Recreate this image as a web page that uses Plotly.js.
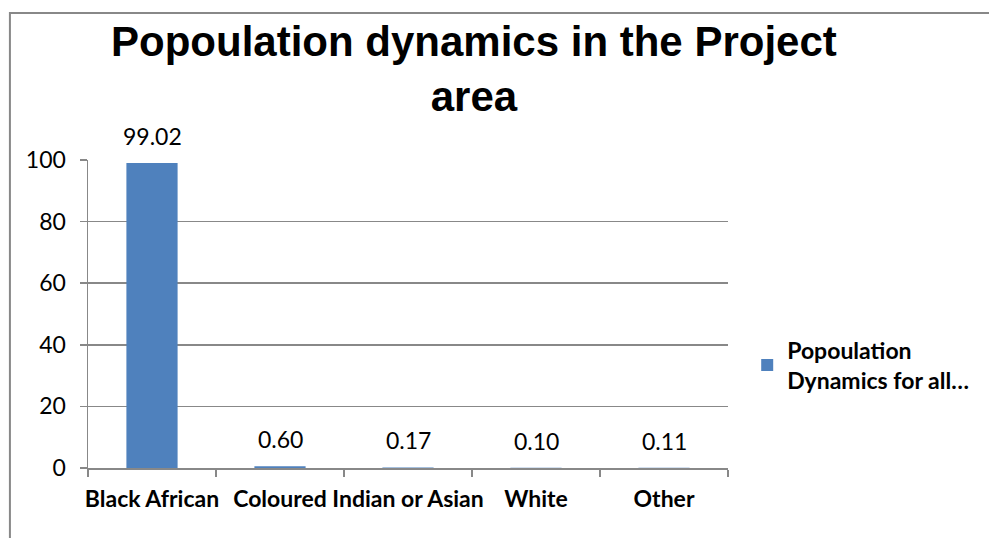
<!DOCTYPE html>
<html>
<head>
<meta charset="utf-8">
<script src="https://cdn.plot.ly/plotly-3.0.1.min.js"></script>
<style>
  html, body { margin: 0; padding: 0; background: #fff; }
  #chart { width: 989px; height: 538px; }
</style>
</head>
<body>
<div id="chart"></div>
<script>
// Population share by group (%)
const categories = ["Black African", "Coloured", "Indian or Asian", "White", "Other"];
const shares = [99.02, 0.60, 0.17, 0.10, 0.11];
const shareLabels = ["99.02", "0.60", "0.17", "0.10", "0.11"];
const seriesName = "Popoulation<br>Dynamics for all…";
const yTicks = [0, 20, 40, 60, 80, 100];

const barColor = "#4F81BD";
const gridColor = "#888888";
const labelFont = "Lato, 'Open Sans', sans-serif";

const trace = {
  type: "bar",
  x: categories,
  y: shares,
  name: seriesName,
  marker: { color: barColor },
  showlegend: true,
  hoverinfo: "x+y"
};

// Value labels above each bar
const valueNotes = categories.map((c, i) => ({
  x: c,
  y: shares[i],
  xref: "x",
  yref: "y",
  text: shareLabels[i],
  showarrow: false,
  yanchor: "bottom",
  yshift: 11,
  font: { family: labelFont, size: 23, color: "#000" }
}));

const layout = {
  width: 989,
  height: 538,
  margin: { l: 88, r: 261, t: 160, b: 70 },
  paper_bgcolor: "#fff",
  plot_bgcolor: "#fff",
  bargap: 0.6,
  title: {
    text: "<b>Popoulation dynamics in the Project<br>area</b>",
    font: { family: "'Liberation Sans', Arial, sans-serif", size: 42, color: "#000" },
    x: 0.603,
    xref: "paper",
    xanchor: "center",
    y: 0.895,
    yref: "container",
    yanchor: "top"
  },
  xaxis: {
    type: "category",
    showgrid: false,
    showline: true,
    linecolor: gridColor,
    linewidth: 1.5,
    ticks: "outside",
    tickson: "boundaries",
    ticklen: 7,
    tickcolor: gridColor,
    tickwidth: 1.5,
    tickangle: 0,
    ticklabelstandoff: 10,
    tickfont: { family: labelFont, size: 23, color: "#000", weight: "bold" },
    fixedrange: true
  },
  yaxis: {
    range: [0, 100],
    tickvals: yTicks,
    ticktext: yTicks.map(String),
    showgrid: true,
    gridcolor: gridColor,
    gridwidth: 1.5,
    zeroline: false,
    showline: true,
    linecolor: gridColor,
    linewidth: 1.5,
    ticks: "outside",
    ticklen: 7,
    tickcolor: gridColor,
    tickwidth: 1.5,
    ticklabelstandoff: 9,
    tickfont: { family: labelFont, size: 23, color: "#000" },
    fixedrange: true
  },
  legend: {
    x: 1.03,
    xanchor: "left",
    y: 0.334,
    yanchor: "middle",
    font: { family: labelFont, size: 23, color: "#000", weight: "bold" },
    itemwidth: 30,
    bgcolor: "rgba(0,0,0,0)"
  },
  annotations: valueNotes,
  shapes: [
    // chart frame (left and top edges fall inside the view)
    {
      type: "rect",
      xref: "paper", yref: "paper",
      x0: -0.122, x1: 1.5,
      y0: -0.5, y1: 1.477,
      line: { color: "#888888", width: 2 },
      fillcolor: "rgba(0,0,0,0)",
      layer: "below"
    }
  ]
};

Plotly.newPlot("chart", [trace], layout, { displayModeBar: false, staticPlot: true });
</script>
</body>
</html>
